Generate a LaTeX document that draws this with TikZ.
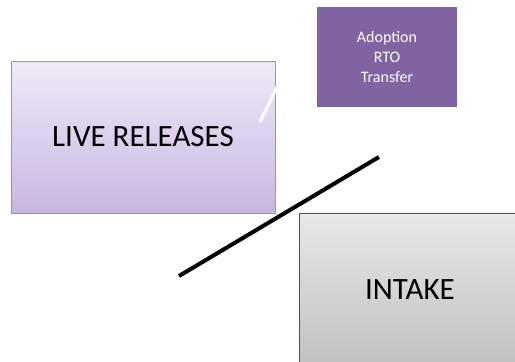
\documentclass[tikz,border=0pt]{standalone}
\usepackage{fontspec}
\setmainfont{Carlito}
\usetikzlibrary{positioning}

\definecolor{lilacTop}{HTML}{F0EAF8}
\definecolor{lilacBottom}{HTML}{C8B6E3}
\definecolor{lilacEdge}{HTML}{A28CC6}
\definecolor{plum}{HTML}{8064A2}
\definecolor{greyTop}{HTML}{E8E8E8}
\definecolor{greyBottom}{HTML}{C0C0C0}
\definecolor{greyEdge}{HTML}{505050}

\tikzset{
  bigbox/.style={rectangle, inner sep=0pt, outer sep=0pt, line width=1pt,
    font=\fontsize{31}{36}\selectfont},
  outcomebox/.style={rectangle, inner sep=0pt, outer sep=0pt, fill=plum,
    text=white, align=center, font=\fontsize{16}{20}\selectfont,
    minimum width=140pt, minimum height=100pt}
}

\begin{document}
\begin{tikzpicture}[x=1pt, y=-1pt]
                \useasboundingbox (0,0) rectangle (515,362);
                \clip (0,0) rectangle (515,362);

                % Boxes
                \node[bigbox, draw=lilacEdge, top color=lilacTop, bottom color=lilacBottom,
                  minimum width=264pt, minimum height=152pt] (live) at (143,137) {LIVE RELEASES};
                \node[outcomebox] (outcomes) at (387,57) {Adoption\\RTO\\Transfer};
                \node[bigbox, draw=greyEdge, top color=greyTop, bottom color=greyBottom,
                  minimum width=222pt, minimum height=154pt] (intake) at (410,290) {INTAKE};

                % Free lines
                \coordinate (wA) at (260,122);
                \coordinate (wB) at (279,83);
                \coordinate (kA) at (179,276);
                \coordinate (kB) at (379,157);
                \draw[white, line width=3pt] (wA) -- (wB);
                \draw[black, line width=4pt] (kA) -- (kB);
            \end{tikzpicture}
\end{document}
